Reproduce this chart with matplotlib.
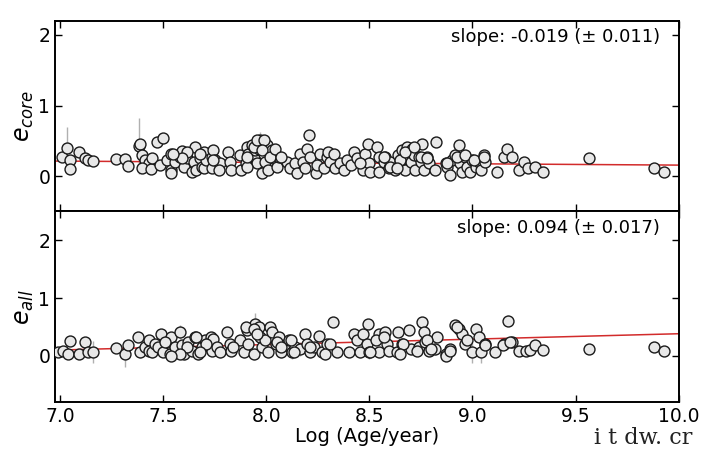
import matplotlib
matplotlib.use("Agg")
import matplotlib.pyplot as plt
import numpy as np

# --- top panel: e_core vs log age ---
core_x = [
    7.008, 7.035, 7.050, 7.050, 7.090, 7.120, 7.137, 7.160, 7.270, 7.315,
    7.330, 7.385, 7.390, 7.400, 7.410, 7.430, 7.400, 7.440, 7.445, 7.470,
    7.500, 7.485, 7.520, 7.540, 7.540, 7.540, 7.560, 7.580, 7.590, 7.600,
    7.615, 7.640, 7.650, 7.655, 7.660, 7.680, 7.690, 7.700, 7.700, 7.710,
    7.735, 7.735, 7.744, 7.750, 7.777, 7.770, 7.817, 7.825, 7.830, 7.874,
    7.880, 7.900, 7.906, 7.914, 7.930, 7.940, 7.947, 7.955, 7.970, 7.963,
    7.980, 7.990, 7.995, 8.003, 8.010, 8.030, 8.035, 8.050, 8.060, 8.100,
    8.117, 8.140, 8.150, 8.165, 8.180, 8.190, 8.200, 8.205, 8.213, 8.240,
    8.246, 8.260, 8.280, 8.295, 8.300, 8.310, 8.327, 8.335, 8.360, 8.375,
    8.390, 8.410, 8.424, 8.440, 8.465, 8.470, 8.480, 8.495, 8.497, 8.505,
    8.537, 8.545, 8.545, 8.570, 8.578, 8.594, 8.600, 8.626, 8.640, 8.650,
    8.660, 8.675, 8.683, 8.700, 8.707, 8.715, 8.723, 8.740, 8.748, 8.756,
    8.764, 8.780, 8.790, 8.824, 8.820, 8.870, 8.877, 8.893, 8.900, 8.917,
    8.933, 8.940, 8.950, 8.966, 8.974, 8.990, 8.998, 9.015, 9.030, 9.040,
    9.055, 9.063, 9.120, 9.152, 9.168, 9.190, 9.225, 9.250, 9.270, 9.305,
    9.340, 9.565, 9.880, 9.930,
    # crowded clusters, partly hidden
    7.940, 7.955, 7.990, 7.980, 7.906, 7.906, 8.020, 8.044, 8.070, 7.680,
    7.744, 7.615, 7.590, 7.550, 8.456, 8.570, 8.650, 8.675, 8.715, 8.748,
    8.780, 8.600, 8.634, 8.877, 8.927, 8.966, 9.006, 9.055,
]
core_y = [
    0.27, 0.40, 0.23, 0.095, 0.345, 0.25, 0.23, 0.22, 0.24, 0.24,
    0.15, 0.43, 0.45, 0.30, 0.23, 0.18, 0.11, 0.095, 0.25, 0.49,
    0.535, 0.16, 0.23, 0.32, 0.085, 0.047, 0.20, 0.27, 0.36, 0.13,
    0.25, 0.06, 0.20, 0.415, 0.085, 0.25, 0.13, 0.345, 0.11, 0.23,
    0.27, 0.11, 0.37, 0.23, 0.18, 0.085, 0.345, 0.20, 0.085, 0.30,
    0.085, 0.18, 0.415, 0.32, 0.44, 0.27, 0.37, 0.18, 0.51, 0.39,
    0.04, 0.32, 0.20, 0.44, 0.085, 0.37, 0.25, 0.13, 0.27, 0.20,
    0.11, 0.18, 0.04, 0.32, 0.20, 0.11, 0.39, 0.58, 0.27, 0.04,
    0.16, 0.32, 0.11, 0.27, 0.345, 0.20, 0.32, 0.11, 0.18, 0.085,
    0.23, 0.16, 0.345, 0.25, 0.18, 0.085, 0.32, 0.46, 0.18, 0.06,
    0.415, 0.27, 0.06, 0.20, 0.27, 0.11, 0.20, 0.085, 0.30, 0.20,
    0.37, 0.085, 0.415, 0.20, 0.39, 0.30, 0.085, 0.27, 0.20, 0.46,
    0.085, 0.27, 0.18, 0.49, 0.085, 0.18, 0.13, 0.015, 0.23, 0.30,
    0.44, 0.18, 0.06, 0.27, 0.13, 0.06, 0.23, 0.13, 0.20, 0.085,
    0.30, 0.20, 0.06, 0.27, 0.39, 0.27, 0.085, 0.20, 0.11, 0.13,
    0.06, 0.25, 0.12, 0.06,
    0.415, 0.51, 0.51, 0.37, 0.13, 0.27, 0.27, 0.39, 0.27, 0.32,
    0.23, 0.345, 0.25, 0.32, 0.18, 0.27, 0.23, 0.345, 0.415, 0.27,
    0.25, 0.13, 0.11, 0.18, 0.27, 0.30, 0.23, 0.27,
]
core_err = [
    0.05, 0.30, 0.05, 0.05, 0.05, 0.04, 0.04, 0.04, 0.04, 0.04,
    0.05, 0.40, 0.08, 0.05, 0.05, 0.05, 0.05, 0.05, 0.05, 0.05,
    0.05, 0.05, 0.05, 0.05, 0.05, 0.05, 0.05, 0.05, 0.05, 0.05,
    0.05, 0.05, 0.05, 0.05, 0.05, 0.05, 0.05, 0.05, 0.05, 0.05,
    0.05, 0.05, 0.05, 0.05, 0.05, 0.05, 0.05, 0.05, 0.05, 0.05,
    0.05, 0.05, 0.05, 0.05, 0.06, 0.05, 0.05, 0.05, 0.12, 0.05,
    0.05, 0.05, 0.05, 0.05, 0.05, 0.05, 0.05, 0.05, 0.05, 0.05,
    0.05, 0.05, 0.05, 0.05, 0.05, 0.05, 0.05, 0.05, 0.05, 0.05,
    0.05, 0.05, 0.05, 0.05, 0.05, 0.05, 0.05, 0.05, 0.05, 0.05,
    0.05, 0.05, 0.05, 0.05, 0.05, 0.05, 0.05, 0.05, 0.05, 0.05,
    0.05, 0.05, 0.05, 0.05, 0.05, 0.05, 0.05, 0.05, 0.05, 0.05,
    0.05, 0.05, 0.05, 0.05, 0.05, 0.05, 0.05, 0.05, 0.05, 0.05,
    0.05, 0.05, 0.05, 0.05, 0.05, 0.05, 0.05, 0.05, 0.05, 0.05,
    0.05, 0.05, 0.05, 0.05, 0.05, 0.05, 0.05, 0.05, 0.05, 0.05,
    0.05, 0.05, 0.05, 0.05, 0.05, 0.05, 0.05, 0.05, 0.05, 0.05,
    0.05, 0.04, 0.04, 0.04,
    0.05, 0.05, 0.05, 0.05, 0.05, 0.05, 0.05, 0.05, 0.05, 0.05,
    0.05, 0.05, 0.05, 0.05, 0.05, 0.05, 0.05, 0.05, 0.05, 0.05,
    0.05, 0.05, 0.05, 0.05, 0.05, 0.05, 0.05, 0.05,
]

# --- bottom panel: e_all vs log age ---
all_x = [
    6.990, 7.016, 7.050, 7.040, 7.090, 7.120, 7.137, 7.160, 7.270, 7.315,
    7.330, 7.380, 7.390, 7.410, 7.430, 7.430, 7.445, 7.460, 7.477, 7.490,
    7.500, 7.520, 7.535, 7.540, 7.560, 7.580, 7.590, 7.600, 7.620, 7.640,
    7.655, 7.670, 7.690, 7.704, 7.730, 7.735, 7.744, 7.760, 7.777, 7.810,
    7.825, 7.830, 7.874, 7.890, 7.906, 7.914, 7.940, 7.947, 7.963, 7.970,
    7.980, 7.995, 8.010, 8.020, 8.030, 8.045, 8.060, 8.070, 8.093, 8.110,
    8.125, 8.140, 8.165, 8.190, 8.200, 8.213, 8.230, 8.254, 8.270, 8.295,
    8.286, 8.323, 8.343, 8.400, 8.424, 8.440, 8.456, 8.470, 8.495, 8.490,
    8.497, 8.545, 8.545, 8.578, 8.586, 8.594, 8.634, 8.640, 8.660, 8.690,
    8.700, 8.740, 8.756, 8.764, 8.772, 8.790, 8.820, 8.830, 8.870, 8.893,
    8.917, 8.933, 8.950, 8.966, 8.998, 9.015, 9.030, 9.040, 9.063, 9.110,
    9.152, 9.173, 9.190, 9.225, 9.257, 9.280, 9.305, 9.340, 9.565, 9.880,
    9.930,
    # crowded clusters, partly hidden
    7.900, 7.940, 7.955, 7.840, 7.710, 7.660, 7.680, 7.615, 7.580, 7.540,
    7.510, 8.050, 8.070, 8.120, 8.137, 8.213, 8.310, 8.530, 8.570, 8.665,
    8.780, 8.927, 8.974, 9.063, 9.150, 9.180, 8.505, 8.650, 8.730, 8.800,
    8.870, 8.893,
]
all_y = [
    0.06, 0.09, 0.25, 0.035, 0.035, 0.235, 0.06, 0.06, 0.14, 0.035,
    0.18, 0.33, 0.06, 0.15, 0.265, 0.09, 0.06, 0.21, 0.15, 0.38,
    0.06, 0.235, 0.035, 0.32, 0.15, 0.41, 0.18, 0.035, 0.235, 0.09,
    0.32, 0.035, 0.15, 0.265, 0.32, 0.09, 0.295, 0.15, 0.06, 0.42,
    0.21, 0.09, 0.265, 0.06, 0.44, 0.21, 0.035, 0.555, 0.50, 0.32,
    0.15, 0.265, 0.06, 0.50, 0.41, 0.21, 0.32, 0.06, 0.18, 0.265,
    0.06, 0.15, 0.12, 0.38, 0.21, 0.06, 0.15, 0.35, 0.06, 0.21,
    0.035, 0.58, 0.06, 0.06, 0.38, 0.265, 0.06, 0.38, 0.555, 0.21,
    0.06, 0.38, 0.06, 0.41, 0.21, 0.09, 0.06, 0.41, 0.21, 0.44,
    0.12, 0.15, 0.58, 0.41, 0.235, 0.09, 0.12, 0.32, 0.035, 0.12,
    0.525, 0.47, 0.38, 0.21, 0.06, 0.47, 0.32, 0.06, 0.21, 0.06,
    0.21, 0.61, 0.235, 0.09, 0.09, 0.10, 0.18, 0.10, 0.12, 0.15,
    0.08,
    0.50, 0.47, 0.38, 0.15, 0.21, 0.32, 0.06, 0.15, 0.035, 0.005,
    0.235, 0.235, 0.15, 0.265, 0.06, 0.15, 0.21, 0.265, 0.32, 0.21,
    0.265, 0.50, 0.265, 0.18, 0.18, 0.235, 0.06, 0.035, 0.09, 0.12,
    0.005, 0.09,
]
all_err = [
    0.05, 0.05, 0.06, 0.05, 0.05, 0.06, 0.06, 0.19, 0.08, 0.23,
    0.06, 0.06, 0.10, 0.08, 0.06, 0.08, 0.10, 0.06, 0.10, 0.06,
    0.08, 0.06, 0.10, 0.06, 0.08, 0.12, 0.08, 0.10, 0.06, 0.08,
    0.06, 0.10, 0.08, 0.06, 0.06, 0.08, 0.06, 0.08, 0.10, 0.10,
    0.06, 0.08, 0.06, 0.10, 0.08, 0.08, 0.10, 0.18, 0.08, 0.08,
    0.08, 0.06, 0.10, 0.06, 0.06, 0.08, 0.06, 0.10, 0.08, 0.06,
    0.12, 0.10, 0.12, 0.06, 0.08, 0.10, 0.08, 0.06, 0.10, 0.08,
    0.10, 0.06, 0.08, 0.08, 0.06, 0.06, 0.10, 0.08, 0.06, 0.08,
    0.12, 0.06, 0.10, 0.06, 0.08, 0.10, 0.10, 0.06, 0.08, 0.06,
    0.10, 0.10, 0.06, 0.06, 0.08, 0.10, 0.10, 0.06, 0.10, 0.08,
    0.06, 0.06, 0.06, 0.08, 0.18, 0.06, 0.06, 0.18, 0.08, 0.06,
    0.06, 0.10, 0.06, 0.06, 0.06, 0.06, 0.06, 0.06, 0.05, 0.05,
    0.05,
    0.07, 0.07, 0.07, 0.07, 0.07, 0.07, 0.07, 0.07, 0.07, 0.07,
    0.07, 0.07, 0.07, 0.07, 0.07, 0.07, 0.07, 0.07, 0.07, 0.07,
    0.07, 0.07, 0.07, 0.07, 0.07, 0.07, 0.07, 0.07, 0.07, 0.07,
    0.07, 0.07,
]

# linear fits: (slope, slope error, value at log age 7.0)
core_fit = (-0.019, 0.011, 0.213)
all_fit = (0.094, 0.017, 0.100)

XLIM = (6.976, 10.0)


def panel(ax, x, y, err, fit, ylabel, ylim):
    slope, slope_err, y7 = fit
    ax.errorbar(x, y, yerr=err, fmt="none", ecolor="#b0b0b0", elinewidth=1.0,
                capsize=0, zorder=1)
    xx = np.array(XLIM)
    ax.plot(xx, y7 + slope * (xx - 7.0), color="#d22b2b", lw=1.1, zorder=2)
    ax.scatter(x, y, s=62, facecolor="#e8e8e8", edgecolor="#1a1a1a",
               linewidth=1.0, zorder=3)
    ax.text(0.97, 0.962, f"slope: {slope:.3f} (\u00b1 {slope_err:.3f})",
            transform=ax.transAxes, ha="right", va="top", fontsize=13)
    ax.set_ylim(*ylim)
    ax.set_yticks([0, 1, 2])
    ax.set_ylabel(ylabel, fontsize=17, labelpad=2)
    ax.tick_params(direction="in", top=True, right=True, length=5,
                   width=1.0, labelsize=13.5)
    for s in ax.spines.values():
        s.set_linewidth(1.4)


fig, (ax1, ax2) = plt.subplots(2, 1, sharex=True, figsize=(7.1, 4.53), dpi=100)
fig.subplots_adjust(left=0.0775, right=0.956, top=0.954, bottom=0.1126, hspace=0)

panel(ax1, core_x, core_y, core_err, core_fit, r"$e_{core}$", (-0.5, 2.2))
panel(ax2, all_x, all_y, all_err, all_fit, r"$e_{all}$", (-0.8, 2.5))

ax2.set_xlim(*XLIM)
ax2.set_xticks([7.0, 7.5, 8.0, 8.5, 9.0, 9.5, 10.0])
ax2.set_xticklabels(["7.0", "7.5", "8.0", "8.5", "9.0", "9.5", "10.0"])
ax2.set_xlabel("Log (Age/year)", fontsize=14, labelpad=1)

# site watermark in the lower right corner
fig.text(0.975, 0.008, "i t dw. cr", ha="right", va="bottom", fontsize=16,
         family="DejaVu Serif", color="#222222")

fig.savefig("out.png", dpi=100)
